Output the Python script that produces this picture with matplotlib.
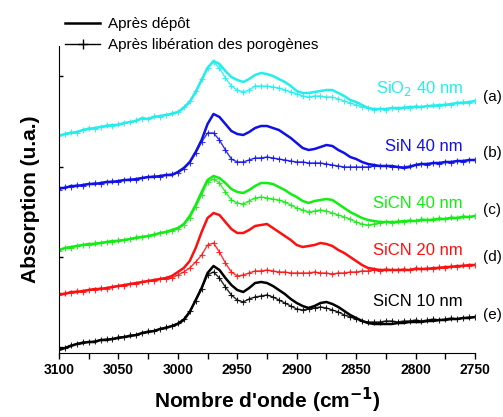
import numpy as np
import matplotlib
matplotlib.use("Agg")
import matplotlib.pyplot as plt
from matplotlib.lines import Line2D

plt.rcParams['font.family'] = ['Liberation Sans', 'DejaVu Sans']

# wavenumbers (cm-1), 5 cm-1 step from 3100 down to 2750
wavenumber = np.arange(3100, 2749, -5)

# absorption (a.u., stacked with offsets as in the original figure)
sio2_depot = [217, 219, 220, 221, 223, 224, 225, 226, 227, 228, 228, 230, 231, 232, 235, 234, 236, 237, 238, 239,
              241, 245, 251, 261, 273, 285, 292, 289, 282, 276, 273, 271, 274, 278, 280, 279, 277, 274, 271, 267,
              262, 260, 260, 261, 262, 263, 263, 260, 257, 253, 251, 248, 245, 244, 244, 244, 245, 245, 245, 246,
              246, 246, 247, 247, 248, 248, 249, 250, 250, 251, 252]
sio2_lib = [218, 219, 221, 220, 223, 225, 224, 226, 228, 227, 229, 230, 231, 233, 234, 234, 237, 236, 238, 240,
            241, 246, 252, 262, 274, 285, 291, 285, 275, 267, 263, 261, 263, 267, 267, 267, 266, 265, 263, 261,
            259, 257, 256, 257, 257, 256, 256, 254, 252, 250, 248, 246, 245, 243, 244, 243, 245, 244, 246, 245,
            247, 246, 247, 248, 247, 249, 248, 250, 251, 250, 252]

sin_depot = [165, 165, 167, 167, 168, 169, 169, 170, 171, 171, 172, 173, 173, 174, 175, 176, 176, 177, 178, 178,
             181, 185, 191, 201, 213, 229, 239, 236, 229, 222, 219, 218, 221, 225, 227, 227, 225, 223, 219, 215,
             210, 205, 203, 204, 206, 208, 207, 203, 200, 196, 194, 191, 189, 188, 187, 187, 187, 186, 185, 186,
             188, 189, 189, 190, 190, 191, 191, 192, 192, 193, 193]
sin_lib = [163, 166, 166, 168, 167, 169, 170, 169, 171, 172, 171, 173, 174, 173, 175, 176, 177, 176, 178, 179,
           180, 184, 190, 200, 211, 220, 220, 213, 203, 194, 191, 191, 193, 195, 195, 196, 195, 194, 193, 192,
           191, 191, 190, 190, 190, 189, 188, 187, 186, 186, 186, 186, 186, 187, 187, 187, 186, 186, 186, 187,
           188, 189, 188, 190, 189, 191, 190, 192, 191, 193, 193]

sicn40_depot = [103, 105, 106, 107, 108, 109, 109, 110, 111, 112, 112, 113, 114, 115, 116, 117, 118, 120, 121, 123,
                125, 129, 137, 148, 161, 173, 177, 175, 170, 164, 161, 160, 163, 167, 170, 170, 169, 166, 163, 159,
                156, 152, 150, 152, 153, 154, 153, 149, 145, 141, 138, 135, 133, 132, 131, 131, 131, 131, 132, 132,
                132, 133, 133, 133, 134, 134, 135, 135, 136, 136, 137]
sicn40_lib = [102, 105, 105, 107, 108, 108, 110, 110, 111, 111, 113, 113, 114, 116, 116, 117, 119, 120, 121, 122,
              124, 128, 135, 146, 158, 171, 174, 170, 161, 153, 150, 149, 152, 155, 156, 155, 154, 153, 151, 148,
              145, 143, 141, 142, 143, 142, 140, 138, 136, 134, 131, 129, 128, 129, 130, 131, 130, 132, 131, 133,
              132, 134, 133, 134, 135, 134, 136, 135, 137, 136, 137]

sicn20_depot = [59, 59, 61, 61, 62, 63, 64, 64, 65, 66, 67, 68, 69, 70, 71, 72, 73, 74, 75, 77,
                81, 85, 92, 105, 121, 135, 140, 138, 131, 124, 120, 120, 123, 127, 128, 129, 125, 121, 117, 113,
                108, 106, 107, 108, 110, 109, 107, 103, 100, 96, 92, 88, 85, 84, 83, 83, 83, 83, 83, 83,
                84, 84, 84, 85, 85, 86, 86, 87, 87, 88, 88]
sicn20_lib = [58, 60, 60, 62, 61, 63, 63, 65, 64, 66, 67, 67, 69, 69, 71, 72, 72, 74, 74, 75,
              78, 81, 85, 91, 98, 108, 110, 101, 90, 81, 77, 78, 80, 82, 82, 83, 82, 81, 81, 80,
              80, 80, 80, 81, 80, 80, 79, 80, 80, 81, 81, 82, 82, 83, 82, 84, 83, 83, 84, 83,
              85, 84, 85, 84, 86, 85, 87, 86, 88, 87, 88]

sicn10_depot = [3, 5, 7, 9, 10, 11, 11, 13, 13, 14, 15, 16, 17, 18, 20, 21, 22, 24, 25, 27,
                29, 33, 41, 53, 65, 80, 87, 83, 75, 68, 63, 61, 65, 70, 71, 70, 67, 63, 59, 54,
                50, 47, 45, 47, 50, 51, 49, 46, 42, 38, 35, 32, 30, 29, 29, 29, 29, 30, 30, 31,
                31, 31, 32, 32, 33, 33, 34, 34, 35, 35, 36]
sicn10_lib = [4, 5, 8, 9, 11, 11, 12, 13, 14, 14, 16, 16, 18, 18, 20, 22, 22, 24, 26, 27,
              30, 34, 42, 52, 64, 78, 81, 75, 66, 58, 53, 51, 54, 56, 57, 58, 56, 53, 50, 47,
              44, 43, 44, 45, 46, 45, 43, 41, 38, 36, 34, 32, 31, 31, 31, 32, 32, 31, 32, 32,
              33, 32, 33, 34, 33, 34, 35, 34, 35, 36, 36]

samples = ['SiO$_2$ 40 nm', 'SiN 40 nm', 'SiCN 40 nm', 'SiCN 20 nm', 'SiCN 10 nm']
letters = ['(a)', '(b)', '(c)', '(d)', '(e)']
colors = ['#22EEEE', '#1010E8', '#11EE11', '#FF1010', '#000000']
depot = [sio2_depot, sin_depot, sicn40_depot, sicn20_depot, sicn10_depot]
liberation = [sio2_lib, sin_lib, sicn40_lib, sicn20_lib, sicn10_lib]
label_y = [264, 206, 149, 102, 51]
letter_y = [256, 200, 143, 96, 38]

fig = plt.figure(figsize=(5.03, 4.17), dpi=100)
ax = fig.add_axes([0.1173, 0.1535, 0.827, 0.7362])

for i in range(len(samples)):
    ax.plot(wavenumber, liberation[i], color=colors[i], lw=1.0, marker='+',
            markersize=5, markeredgewidth=0.8, alpha=0.85)
    ax.plot(wavenumber, depot[i], color=colors[i], lw=1.8)
    ax.text(2760, label_y[i], samples[i], color=colors[i], fontsize=12,
            ha='right', va='center')
    ax.text(2743, letter_y[i], letters[i], color='black', fontsize=11,
            ha='left', va='center', clip_on=False)

ax.set_xlim(3100, 2750)
ax.set_ylim(0, 307)
ax.spines['top'].set_visible(False)
ax.spines['right'].set_visible(False)
ax.set_xticks(np.arange(3100, 2749, -50))
ax.set_xticks(np.arange(3100, 2749, -25), minor=True)
ax.tick_params(axis='x', which='both', direction='out', length=4, width=1)
ax.tick_params(axis='x', labelsize=10)
for lab in ax.get_xticklabels():
    lab.set_fontweight('bold')
ax.set_yticks([6, 96, 186, 277])
ax.set_yticklabels([])
ax.tick_params(axis='y', direction='in', length=3, width=1)

ax.set_xlabel("Nombre d'onde (cm$^{\\mathbf{-1}}$)", fontsize=15, fontweight='bold', labelpad=6)
ax.set_ylabel('Absorption (u.a.)', fontsize=15, fontweight='bold', labelpad=10)

handles = [Line2D([], [], color='black', lw=1.8),
           Line2D([], [], color='black', lw=1.0, marker='+', markersize=7, markeredgewidth=1)]
ax.legend(handles, ['Après dépôt', 'Après libération des porogènes'], loc='upper left',
          bbox_to_anchor=(65 / 503, 1 - 17 / 417), bbox_transform=fig.transFigure,
          frameon=False, fontsize=11, handlelength=2.3, handletextpad=0.5,
          labelspacing=0.45, borderpad=0, borderaxespad=0, numpoints=1)

fig.savefig('out.png', dpi=100)
